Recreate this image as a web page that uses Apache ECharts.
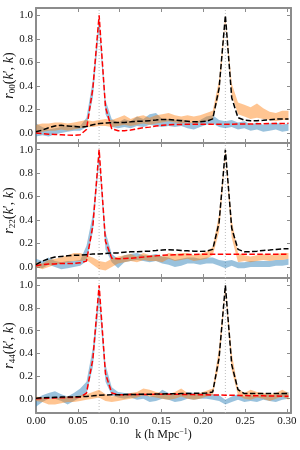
<!DOCTYPE html>
<html><head><meta charset="utf-8">
<script src="https://cdn.jsdelivr.net/npm/echarts@6/dist/echarts.min.js"></script>
<style>html,body{margin:0;padding:0;background:#fff}#c{width:300px;height:450px}</style>
</head><body><div id="c"></div>
<script>
// k bins (h Mpc^-1)
const k = [0.0000,0.0076,0.0151,0.0227,0.0302,0.0378,0.0453,0.0529,0.0604,0.0680,0.0755,0.0831,0.0906,0.0982,0.1057,0.1133,0.1208,0.1284,0.1359,0.1435,0.1510,0.1586,0.1661,0.1737,0.1812,0.1888,0.1963,0.2039,0.2114,0.2190,0.2265,0.2341,0.2416,0.2492,0.2567,0.2643,0.2718,0.2794,0.2869,0.2945,0.3020];
const peakK = [0.0755, 0.2265];
const xTickLabels = ['0.00','0.05','0.10','0.15','0.20','0.25','0.30'];
const yTickLabels = ['0.0','0.2','0.4','0.6','0.8','1.0'];
const panelSubs = ['00','22','44'];

// r00
const r00Red   = [0.00,-0.005,-0.01,-0.012,-0.015,-0.018,-0.02,-0.015,0.03,0.38,1.00,0.22,0.035,0.02,0.02,0.025,0.035,0.045,0.05,0.06,0.065,0.07,0.072,0.073,0.074,0.075,0.075,0.075,0.074,0.074,0.075,0.075,0.076,0.077,0.077,0.078,0.079,0.08,0.08,0.081,0.082];
const r00Black = [0.01,0.025,0.045,0.06,0.065,0.06,0.055,0.05,0.055,0.07,0.08,0.085,0.088,0.09,0.09,0.095,0.10,0.10,0.105,0.11,0.115,0.115,0.11,0.105,0.10,0.095,0.095,0.10,0.12,0.38,1.00,0.30,0.13,0.11,0.105,0.105,0.108,0.112,0.118,0.12,0.12];
const r00BlueLo = [-0.03,-0.02,-0.03,-0.01,0.00,0.01,0.02,0.02,0.05,0.30,0.88,0.16,0.05,0.04,0.05,0.04,0.06,0.05,0.07,0.06,0.05,0.06,0.05,0.06,0.04,0.03,0.05,0.07,0.08,0.05,0.04,0.05,0.03,0.04,0.02,0.03,0.01,0.02,0.03,0.01,0.02];
const r00BlueHi = [0.08,0.05,0.03,0.04,0.05,0.06,0.07,0.06,0.13,0.45,1.00,0.28,0.12,0.09,0.12,0.10,0.14,0.12,0.16,0.17,0.12,0.12,0.11,0.12,0.10,0.08,0.11,0.14,0.15,0.11,0.10,0.11,0.09,0.10,0.07,0.09,0.07,0.08,0.09,0.07,0.08];
const r00OrangeLo = [0.00,0.01,0.02,0.02,0.03,0.02,0.03,0.04,0.05,0.05,0.06,0.06,0.05,0.06,0.07,0.06,0.07,0.08,0.07,0.08,0.09,0.10,0.09,0.08,0.09,0.08,0.09,0.10,0.12,0.32,0.95,0.32,0.16,0.14,0.12,0.13,0.12,0.11,0.10,0.11,0.11];
const r00OrangeHi = [0.07,0.08,0.08,0.09,0.09,0.08,0.09,0.10,0.11,0.10,0.11,0.12,0.11,0.13,0.15,0.12,0.14,0.15,0.13,0.15,0.16,0.17,0.15,0.14,0.15,0.14,0.15,0.17,0.19,0.45,1.00,0.42,0.26,0.24,0.22,0.25,0.21,0.18,0.17,0.19,0.19];

// r22
const r22Red   = [0.01,0.02,0.025,0.025,0.03,0.03,0.03,0.035,0.05,0.35,1.00,0.22,0.075,0.07,0.072,0.075,0.08,0.085,0.09,0.095,0.10,0.102,0.104,0.105,0.106,0.107,0.108,0.108,0.108,0.108,0.108,0.108,0.108,0.108,0.108,0.108,0.108,0.108,0.108,0.108,0.108];
const r22Black = [0.02,0.05,0.07,0.085,0.09,0.095,0.10,0.10,0.105,0.11,0.11,0.115,0.12,0.12,0.125,0.13,0.13,0.133,0.135,0.14,0.145,0.147,0.145,0.14,0.138,0.135,0.133,0.135,0.15,0.38,1.00,0.33,0.15,0.13,0.13,0.135,0.14,0.145,0.15,0.155,0.155];
const r22BlueLo = [0.00,-0.01,0.02,0.00,-0.02,-0.01,0.00,0.01,0.05,0.30,0.90,0.15,0.04,-0.01,0.04,0.05,0.06,0.05,0.04,0.05,0.03,0.02,0.00,0.01,0.03,0.03,0.02,0.03,0.03,0.01,-0.01,0.01,-0.01,-0.01,0.00,0.00,0.00,0.00,0.01,0.01,0.02];
const r22BlueHi = [0.07,0.05,0.08,0.05,0.04,0.05,0.05,0.06,0.18,0.45,1.00,0.30,0.11,0.07,0.10,0.11,0.12,0.10,0.10,0.11,0.09,0.08,0.06,0.07,0.08,0.08,0.07,0.08,0.08,0.06,0.05,0.06,0.04,0.04,0.05,0.05,0.05,0.05,0.06,0.06,0.07];
const r22OrangeLo = [0.00,-0.02,0.00,0.02,0.03,0.04,0.05,0.05,0.06,0.02,-0.02,-0.03,0.00,0.03,0.04,0.05,0.04,0.06,0.05,0.05,0.04,0.07,0.05,0.06,0.07,0.05,0.06,0.07,0.10,0.30,0.95,0.25,0.04,0.05,0.04,0.05,0.06,0.05,0.06,0.06,0.07];
const r22OrangeHi = [0.04,0.03,0.06,0.07,0.08,0.10,0.12,0.12,0.10,0.08,0.05,0.04,0.07,0.09,0.10,0.11,0.09,0.12,0.10,0.10,0.09,0.12,0.11,0.12,0.12,0.10,0.11,0.13,0.17,0.45,1.00,0.40,0.12,0.10,0.09,0.10,0.11,0.10,0.11,0.12,0.12];

// r44
const r44Red   = [0.00,0.003,0.005,0.007,0.008,0.01,0.01,0.015,0.05,0.35,1.00,0.22,0.05,0.035,0.035,0.036,0.037,0.038,0.038,0.039,0.04,0.04,0.039,0.038,0.037,0.036,0.035,0.034,0.033,0.032,0.031,0.03,0.029,0.028,0.027,0.026,0.025,0.024,0.023,0.022,0.021];
const r44Black = [0.005,0.008,0.01,0.012,0.014,0.015,0.016,0.018,0.02,0.025,0.03,0.032,0.034,0.035,0.036,0.037,0.038,0.039,0.04,0.041,0.042,0.043,0.044,0.045,0.046,0.047,0.048,0.05,0.06,0.36,1.00,0.30,0.08,0.045,0.045,0.045,0.045,0.045,0.045,0.045,0.045];
const r44BlueLo = [-0.07,-0.03,0.00,0.00,-0.02,-0.05,-0.02,0.01,0.04,0.28,0.85,0.15,0.03,0.01,0.00,0.01,-0.01,0.00,-0.03,-0.02,0.00,-0.01,-0.03,-0.02,0.00,-0.01,0.00,0.00,-0.01,-0.02,-0.05,-0.03,-0.01,-0.03,-0.02,-0.03,-0.01,-0.02,-0.03,-0.01,0.00];
const r44BlueHi = [0.00,0.03,0.05,0.065,0.04,0.02,0.05,0.09,0.15,0.45,1.00,0.30,0.10,0.06,0.05,0.05,0.04,0.05,0.02,0.03,0.08,0.05,0.03,0.04,0.06,0.05,0.05,0.05,0.04,0.03,-0.01,0.02,0.04,0.02,0.03,0.02,0.04,0.03,0.03,0.05,0.06];
const r44OrangeLo = [-0.02,-0.03,-0.05,-0.05,-0.04,-0.03,-0.03,-0.02,-0.01,0.00,0.01,-0.02,-0.03,-0.02,-0.01,0.00,0.01,0.03,0.02,0.01,0.00,-0.01,0.00,0.02,0.00,-0.01,0.00,0.02,0.03,0.30,0.95,0.25,0.03,0.00,-0.01,0.01,0.00,-0.02,0.00,0.02,-0.01];
const r44OrangeHi = [0.02,0.01,0.00,0.00,0.01,0.02,0.02,0.03,0.04,0.06,0.08,0.04,0.02,0.03,0.04,0.05,0.06,0.09,0.08,0.06,0.05,0.04,0.06,0.09,0.05,0.04,0.05,0.07,0.09,0.45,1.00,0.40,0.09,0.05,0.08,0.06,0.05,0.04,0.05,0.08,0.05];

const panels = [
  {red: r00Red, black: r00Black, bLo: r00BlueLo, bHi: r00BlueHi, oLo: r00OrangeLo, oHi: r00OrangeHi, ymin: -0.085, ymax: 1.063, top: 8},
  {red: r22Red, black: r22Black, bLo: r22BlueLo, bHi: r22BlueHi, oLo: r22OrangeLo, oHi: r22OrangeHi, ymin: -0.094, ymax: 1.057, top: 143},
  {red: r44Red, black: r44Black, bLo: r44BlueLo, bHi: r44BlueHi, oLo: r44OrangeLo, oHi: r44OrangeHi, ymin: -0.126, ymax: 1.064, top: 278}
];

const FONT = 'Liberation Serif';
const SPINE = '#8c8c8c';
const pairs = arr => arr.map((v, i) => [k[i], v]);
const isMult = (v, step) => Math.abs(v / step - Math.round(v / step)) < 1e-6;
const xFmt = v => { if (!isMult(v, 0.05)) return ''; const i = Math.round(v / 0.05); return xTickLabels[i] || ''; };
const yFmt = v => { if (!isMult(v, 0.2)) return ''; const i = Math.round(v / 0.2); return (i >= 0 && yTickLabels[i]) ? yTickLabels[i] : ''; };

const grid = [], xAxis = [], yAxis = [], series = [];
panels.forEach((p, pi) => {
  grid.push({left: 36, right: 9, top: p.top, height: 135, containLabel: false, outerBoundsMode: 'none'});
  const common = {
    gridIndex: pi, type: 'value', nameMoveOverlap: false,
    axisLine: {show: true, onZero: false, lineStyle: {color: SPINE, width: 2}},
    axisTick: {show: true, inside: true, length: 4, lineStyle: {color: SPINE, width: 1}},
    splitLine: {show: false}
  };
  const last = pi === panels.length - 1;
  xAxis.push(Object.assign({}, common, {
    position: 'bottom', min: 0, max: 0.305, interval: 0.05,
    axisLabel: {show: last, formatter: xFmt, fontFamily: FONT, fontSize: 11, color: '#111', margin: 3},
    name: last ? '{n|k (h Mpc}{sup|\u22121}{n|)}' : '',
    nameLocation: 'middle', nameGap: 15,
    nameTextStyle: {fontFamily: FONT, fontSize: 12, color: '#111',
      rich: {n: {fontFamily: FONT, fontSize: 12, color: '#111', lineHeight: 14},
             sup: {fontFamily: FONT, fontSize: 8, color: '#111', verticalAlign: 'top', lineHeight: 8}}}
  }));
  xAxis.push(Object.assign({}, common, {
    position: 'top', min: 0, max: 0.305, interval: 0.05, axisLabel: {show: false}
  }));
  yAxis.push(Object.assign({}, common, {
    position: 'left', min: p.ymin, max: p.ymax, splitNumber: 5,
    axisLabel: {show: true, formatter: yFmt, fontFamily: FONT, fontSize: 11, color: '#111', margin: 3},
    name: '{i|r}{s|' + panelSubs[pi] + '}{n|(}{i|k}{n|\u2032, }{i|k}{n|)}',
    nameLocation: 'middle', nameGap: 19, nameRotate: 90,
    nameTextStyle: {fontFamily: FONT, fontSize: 14, color: '#111',
      rich: {i: {fontFamily: FONT, fontStyle: 'italic', fontSize: 14, color: '#111', lineHeight: 16},
             n: {fontFamily: FONT, fontSize: 14, color: '#111', lineHeight: 16},
             s: {fontFamily: FONT, fontSize: 9, color: '#111', verticalAlign: 'bottom', lineHeight: 9}}}
  }));
  yAxis.push(Object.assign({}, common, {
    position: 'right', min: p.ymin, max: p.ymax, splitNumber: 5, axisLabel: {show: false}
  }));
  const xi = pi * 2, yi = pi * 2;
  // dotted guide lines at the peak wavenumbers
  peakK.forEach(pk => {
    series.push({type: 'line', xAxisIndex: xi, yAxisIndex: yi, data: [[pk, p.ymin], [pk, p.ymax]],
      showSymbol: false, symbol: 'none', silent: true, z: 0,
      lineStyle: {color: '#bdbdbd', width: 1, type: [1, 2]}});
  });
  const band = (lo, hi, color) => {
    series.push({
      type: 'custom', xAxisIndex: xi, yAxisIndex: yi, silent: true, z: 1, clip: true,
      data: k.map((kk, i) => [kk, lo[i], hi[i]]),
      encode: {x: 0, y: [1, 2]},
      renderItem: (params, api) => {
        if (params.dataIndex !== 0) return null;
        const pts = [];
        for (let i = 0; i < k.length; i++) pts.push(api.coord([k[i], hi[i]]));
        for (let i = k.length - 1; i >= 0; i--) pts.push(api.coord([k[i], lo[i]]));
        return {type: 'polygon', shape: {points: pts}, style: {fill: color, stroke: 'none'}};
      }
    });
  };
  band(p.bLo, p.bHi, 'rgba(31,119,180,0.45)');
  band(p.oLo, p.oHi, 'rgba(255,127,14,0.45)');
  series.push({type: 'line', xAxisIndex: xi, yAxisIndex: yi, data: pairs(p.red), showSymbol: false, symbol: 'none',
    lineStyle: {color: '#ff0000', width: 1.5, type: [5.5, 2.4]}, z: 3, silent: true});
  series.push({type: 'line', xAxisIndex: xi, yAxisIndex: yi, data: pairs(p.black), showSymbol: false, symbol: 'none',
    lineStyle: {color: '#000000', width: 1.5, type: [5.5, 2.4]}, z: 4, silent: true});
});

const chart = echarts.init(document.getElementById('c'), null, {renderer: 'canvas'});
chart.setOption({animation: false, backgroundColor: '#fff', grid, xAxis, yAxis, series});
</script></body></html>
